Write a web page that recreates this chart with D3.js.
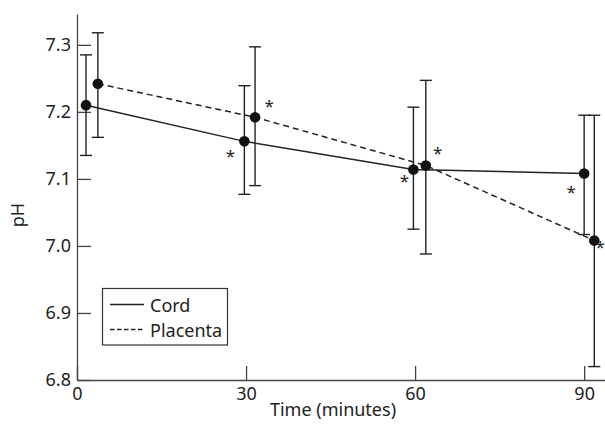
<!DOCTYPE html>
<html>
<head>
<meta charset="utf-8">
<script src="https://cdnjs.cloudflare.com/ajax/libs/d3/7.8.5/d3.min.js"></script>
<style>
  body { margin: 0; background: #fff; }
  text { font-family: "Noto Sans", "DejaVu Sans", sans-serif; fill: #222; }
</style>
</head>
<body>
<div id="chart"></div>
<script>
// data (points are offset slightly in time, as in the original)
var cordTime     = [1.6, 29.7, 59.7, 90.0];
var cordPH       = [7.210, 7.156, 7.114, 7.108];
var cordHigh     = [7.285, 7.239, 7.207, 7.195];
var cordLow      = [7.135, 7.077, 7.025, 7.017];
var cordStar     = [false, true, true, true];

var placentaTime = [3.7, 31.6, 61.9, 91.8];
var placentaPH   = [7.242, 7.192, 7.120, 7.008];
var placentaHigh = [7.318, 7.297, 7.247, 7.195];
var placentaLow  = [7.162, 7.090, 6.988, 6.820];
var placentaStar = [false, true, true, true];

var xTicks = [0, 30, 60, 90];
var yTicks = [6.8, 6.9, 7.0, 7.1, 7.2, 7.3];
var legendLabels = ["Cord", "Placenta"];

var width = 605, height = 429;

var svg = d3.select("#chart")
    .append("svg")
    .attr("width", width)
    .attr("height", height);

var x = d3.scaleLinear().domain([0, 93.7]).range([77, 605]);
var y = d3.scaleLinear().domain([6.8, 7.346]).range([380, 14]);

// axes
var xAxis = svg.append("g")
    .attr("transform", "translate(0,380)")
    .call(d3.axisBottom(x).tickValues(xTicks).tickFormat(d3.format("d"))
        .tickSize(-14).tickSizeOuter(0).tickPadding(7));

var yAxis = svg.append("g")
    .attr("transform", "translate(77,0)")
    .call(d3.axisLeft(y).tickValues(yTicks).tickFormat(d3.format(".1f"))
        .tickSize(-14).tickSizeOuter(0).tickPadding(6));

[xAxis, yAxis].forEach(function(a) {
    a.selectAll("path, line").attr("stroke", "#444").attr("stroke-width", 1.3);
    a.selectAll("text").attr("font-size", 18).attr("fill", "#222")
        .style("font-family", "'Noto Sans', sans-serif");
});

svg.append("text")
    .attr("x", 333).attr("y", 416)
    .attr("text-anchor", "middle")
    .attr("font-size", 18)
    .text("Time (minutes)");

svg.append("text")
    .attr("transform", "translate(24,215) rotate(-90)")
    .attr("text-anchor", "middle")
    .attr("font-size", 18)
    .text("pH");

// series
var series = [
    {time: cordTime, ph: cordPH, hi: cordHigh, lo: cordLow, star: cordStar, dash: null, starOff: [[-14, 13], [-14, 13], [-9, 9], [-13, 16]]},
    {time: placentaTime, ph: placentaPH, hi: placentaHigh, lo: placentaLow, star: placentaStar, dash: "6,4", starOff: [[14, -13], [14, -13], [12, -14], [6, 4]]}
];

var line = d3.line()
    .x(function(d) { return x(d.t); })
    .y(function(d) { return y(d.v); });

series.forEach(function(s) {
    var pts = s.time.map(function(t, i) {
        return {t: t, v: s.ph[i], hi: s.hi[i], lo: s.lo[i], star: s.star[i], off: s.starOff[i]};
    });

    svg.append("path")
        .datum(pts)
        .attr("d", line)
        .attr("fill", "none")
        .attr("stroke", "#222")
        .attr("stroke-width", 1.5)
        .attr("stroke-dasharray", s.dash);

    var g = svg.append("g").selectAll("g")
        .data(pts)
        .join("g");

    g.append("line")
        .attr("x1", function(d) { return x(d.t); })
        .attr("x2", function(d) { return x(d.t); })
        .attr("y1", function(d) { return y(d.hi); })
        .attr("y2", function(d) { return y(d.lo); })
        .attr("stroke", "#222").attr("stroke-width", 1.4);

    ["hi", "lo"].forEach(function(k) {
        g.append("line")
            .attr("x1", function(d) { return x(d.t) - 6; })
            .attr("x2", function(d) { return x(d.t) + 6; })
            .attr("y1", function(d) { return y(d[k]); })
            .attr("y2", function(d) { return y(d[k]); })
            .attr("stroke", "#222").attr("stroke-width", 1.4);
    });

    g.append("circle")
        .attr("cx", function(d) { return x(d.t); })
        .attr("cy", function(d) { return y(d.v); })
        .attr("r", 5.3)
        .attr("fill", "#111");

    g.filter(function(d) { return d.star; })
        .append("text")
        .attr("x", function(d) { return x(d.t) + d.off[0]; })
        .attr("y", function(d) { return y(d.v) + d.off[1] + 8; })
        .attr("text-anchor", "middle")
        .attr("font-size", 17)
        .text("*");
});

// legend
var legend = svg.append("g");
legend.append("rect")
    .attr("x", 102.5).attr("y", 288.5)
    .attr("width", 125).attr("height", 56.5)
    .attr("fill", "#fff")
    .attr("stroke", "#333").attr("stroke-width", 1.2);

legendLabels.forEach(function(label, i) {
    var ly = 304.5 + i * 25;
    legend.append("line")
        .attr("x1", 110).attr("x2", 144)
        .attr("y1", ly).attr("y2", ly)
        .attr("stroke", "#222").attr("stroke-width", 1.3)
        .attr("stroke-dasharray", i === 1 ? "4.5,2.5" : null);
    legend.append("text")
        .attr("x", 150).attr("y", ly + 7)
        .attr("font-size", 18)
        .text(label);
});
</script>
</body>
</html>
